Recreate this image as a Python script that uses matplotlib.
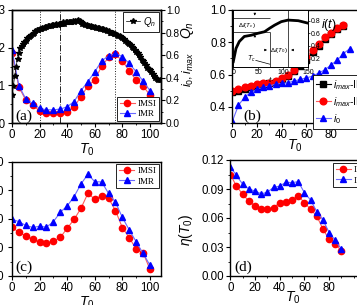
import matplotlib
matplotlib.use("Agg")
import matplotlib.pyplot as plt
from matplotlib.ticker import AutoMinorLocator, MultipleLocator, FormatStrFormatter, FixedLocator
import numpy as np

plt.rcParams['font.family'] = ['Liberation Sans', 'DejaVu Sans']
plt.rcParams['mathtext.fontset'] = 'custom'
plt.rcParams['mathtext.it'] = 'Liberation Sans:italic'
plt.rcParams['mathtext.rm'] = 'Liberation Sans'

# ---- data ----
t0 = np.arange(0, 105, 5)

# (a)
a_imsi = [0.186, 0.095, 0.061, 0.048, 0.032, 0.027, 0.026, 0.026, 0.030, 0.043, 0.070,
          0.098, 0.114, 0.151, 0.174, 0.182, 0.165, 0.138, 0.114, 0.098, 0.074]
a_imr = [0.194, 0.099, 0.064, 0.052, 0.039, 0.035, 0.035, 0.037, 0.043, 0.057, 0.086,
         0.110, 0.136, 0.165, 0.178, 0.185, 0.176, 0.158, 0.136, 0.111, 0.086]
qn_t = np.arange(0, 108, 1)
qn = [0.25, 0.33, 0.42, 0.50, 0.57, 0.62, 0.66, 0.68, 0.70, 0.72, 0.73, 0.75, 0.76, 0.77,
      0.78, 0.79, 0.80, 0.81, 0.82, 0.82, 0.83, 0.83, 0.84, 0.84, 0.85, 0.85, 0.86, 0.86,
      0.86, 0.87, 0.87, 0.87, 0.88, 0.87, 0.88, 0.88, 0.88, 0.89, 0.88, 0.89, 0.89, 0.89,
      0.89, 0.89, 0.90, 0.89, 0.90, 0.90, 0.91, 0.90, 0.89, 0.88, 0.88, 0.87, 0.87, 0.86,
      0.86, 0.86, 0.85, 0.85, 0.85, 0.84, 0.84, 0.84, 0.83, 0.83, 0.83, 0.82, 0.82, 0.81,
      0.81, 0.80, 0.80, 0.80, 0.79, 0.79, 0.78, 0.77, 0.77, 0.76, 0.75, 0.74, 0.73, 0.72,
      0.71, 0.70, 0.69, 0.67, 0.66, 0.65, 0.63, 0.62, 0.60, 0.58, 0.56, 0.55, 0.53, 0.51,
      0.49, 0.48, 0.47, 0.45, 0.43, 0.42, 0.40, 0.39, 0.38, 0.38]
vlines_a = [20, 35, 75]

# (b)
b_t = np.arange(0, 95, 5)
b_imax_1 = [0.49, 0.50, 0.51, 0.52, 0.53, 0.54, 0.545, 0.555, 0.57, 0.59, 0.62, 0.65,
            0.69, 0.74, 0.78, 0.82, 0.85, 0.88, 0.90]
b_imax_2 = [0.50, 0.51, 0.52, 0.53, 0.54, 0.545, 0.55, 0.56, 0.58, 0.60, 0.63, 0.67,
            0.71, 0.75, 0.79, 0.83, 0.86, 0.89, 0.91]
b_i0_t = np.arange(0, 100, 5)
b_i0 = [0.31, 0.41, 0.46, 0.49, 0.51, 0.52, 0.53, 0.54, 0.545, 0.55, 0.56, 0.57, 0.58,
        0.59, 0.61, 0.63, 0.66, 0.69, 0.73, 0.76]
# inset i(t)
it_t = [0, 5.4, 12, 22, 36, 49, 62.5, 72.6, 82.7, 96, 109.6, 130, 150]
it_i = [0.15, 0.36, 0.47, 0.55, 0.57, 0.60, 0.625, 0.68, 0.73, 0.785, 0.81, 0.80, 0.76]

# (c)
c_imsi = [0.170, 0.153, 0.140, 0.128, 0.119, 0.114, 0.122, 0.135, 0.167, 0.198, 0.237,
          0.289, 0.269, 0.281, 0.272, 0.229, 0.169, 0.134, 0.094, 0.082, 0.023]
c_imr = [0.199, 0.190, 0.177, 0.170, 0.174, 0.171, 0.190, 0.223, 0.245, 0.278, 0.322,
         0.356, 0.330, 0.329, 0.289, 0.258, 0.205, 0.161, 0.120, 0.079, 0.038]

# (d)
d_t = np.arange(0, 95, 5)
d_imsi = [0.105, 0.093, 0.0845, 0.0776, 0.0724, 0.069, 0.069, 0.0707, 0.0759, 0.0769,
          0.0786, 0.0828, 0.0759, 0.069, 0.062, 0.0486, 0.0379, 0.033, 0.026]
d_imr = [0.113, 0.104, 0.095, 0.090, 0.088, 0.085, 0.0866, 0.0917, 0.093, 0.097, 0.0966,
         0.0976, 0.0862, 0.0786, 0.0666, 0.058, 0.045, 0.037, 0.0276]

RED, RED_L = '#ff0000', '#ff5a5a'
BLUE, BLUE_L = '#0000ff', '#6a6aff'
TICK_FS = 8.3
SERIF = ['Liberation Serif', 'DejaVu Serif']

W, H = 357, 305
fig = plt.figure(figsize=(W / 100, H / 100), dpi=100)


def px_axes(left, top, width, height):
    return fig.add_axes([left / W, 1 - (top + height) / H, width / W, height / H])


def style(ax, xminor=True):
    for s in ax.spines.values():
        s.set_linewidth(1.0)
    ax.tick_params(which='both', direction='out', labelsize=TICK_FS, pad=1.5)
    ax.tick_params(which='major', length=3, width=0.8)
    ax.tick_params(which='minor', length=1.6, width=0.6)
    if xminor:
        ax.xaxis.set_minor_locator(AutoMinorLocator(2))
    ax.yaxis.set_minor_locator(AutoMinorLocator(2))


def pair(ax, x, y1, y2, lab1='IMSI', lab2='IMR'):
    ax.plot(x, y1, '-', color=RED_L, lw=0.8, marker='o', ms=4.5, mfc=RED, mec=RED, label=lab1)
    ax.plot(x, y2, '-', color=BLUE_L, lw=0.8, marker='^', ms=4.8, mfc=BLUE, mec=BLUE, label=lab2)


def serif_legend(ax, **kw):
    leg = ax.legend(prop={'family': SERIF, 'size': 6.5}, fancybox=False, edgecolor='black',
                    framealpha=1, handlelength=1.7, handletextpad=0.3, labelspacing=0.25,
                    borderpad=0.3, **kw)
    leg.get_frame().set_linewidth(0.6)
    return leg


def panel_label(ax, s, x, y):
    ax.text(x, y, s, transform=ax.transAxes, family=SERIF, fontsize=11, ha='left', va='bottom')


# ---- (a) ----
ax_a = px_axes(12, 10, 149, 113)
for v, ls in zip(vlines_a, [':', '-.', ':']):
    ax_a.axvline(v, color='#222222', lw=0.7, ls=ls)
pair(ax_a, t0, a_imsi, a_imr)
ax_a.set_xlim(0, 108)
ax_a.set_ylim(0, 0.3)
ax_a.xaxis.set_major_locator(MultipleLocator(20))
ax_a.yaxis.set_major_locator(MultipleLocator(0.1))
style(ax_a)
ax_a.set_xlabel('$\\mathit{T_0}$', fontsize=10, labelpad=0)
serif_legend(ax_a, loc='lower right', borderaxespad=0.2)
panel_label(ax_a, '(a)', 0.02, 0.0)

ax_q = ax_a.twinx()
ax_q.plot(qn_t, qn, '-*', color='black', lw=0.5, ms=4, label='$Q_n$')
ax_q.set_ylim(0, 1.0)
ax_q.yaxis.set_major_locator(MultipleLocator(0.2))
style(ax_q, xminor=False)
ax_q.tick_params(axis='y', pad=0.5, labelsize=7.3)
ax_q.set_ylabel('$Q_n$', fontsize=10)
ax_q.yaxis.set_label_coords(1.12, 0.82)
lq = ax_q.legend(loc='upper right', fancybox=False, edgecolor='black', framealpha=1,
                 prop={'size': 7}, handlelength=1.5, handletextpad=0.3, borderpad=0.3,
                 borderaxespad=0.2)
lq.get_frame().set_linewidth(0.6)

# ---- (b) ----
ax_b = px_axes(232.3, 10, 133.4, 113)
ax_b.plot(b_t, b_imax_1, '-', color='black', lw=0.8, marker='s', ms=4.2, label='$i_{max}$-IMSI')
ax_b.plot(b_t, b_imax_2, '-', color=RED_L, lw=0.8, marker='o', ms=4.8, mfc=RED, mec=RED,
          label='$i_{max}$-IMR')
ax_b.plot(b_i0_t, b_i0, '-', color=BLUE_L, lw=0.8, marker='^', ms=4.8, mfc=BLUE, mec=BLUE,
          label='$i_0$')
ax_b.set_xlim(0, 108)
ax_b.set_ylim(0.3, 1.0)
ax_b.xaxis.set_major_locator(FixedLocator([0, 20, 40, 60, 80]))
ax_b.yaxis.set_major_locator(MultipleLocator(0.2))
style(ax_b)
ax_b.set_xlabel('$\\mathit{T_0}$', fontsize=10, labelpad=0)
ax_b.xaxis.set_label_coords(0.47, -0.13)
ax_b.set_ylabel('$i_0,i_{max}$', fontsize=9)
ax_b.yaxis.set_label_coords(-0.27, 0.47)
lb = ax_b.legend(loc='upper left', bbox_to_anchor=(0.605, 0.425), fancybox=False,
                 edgecolor='black', framealpha=1, prop={'size': 7.5}, handlelength=1.4,
                 handletextpad=0.2, labelspacing=0.3, borderpad=0.3, borderaxespad=0)
lb.get_frame().set_linewidth(0.6)
panel_label(ax_b, '(b)', 0.08, 0.0)

# inset
ax_in = px_axes(233.3, 10, 75, 56.7)
ax_in.plot(it_t, it_i, '-', color='black', lw=2.0)
ax_in.set_xlim(0, 150)
ax_in.set_ylim(0.07, 0.97)
ax_in.yaxis.tick_right()
ax_in.set_xticks([0, 50, 100, 150])
ax_in.set_yticks([0.2, 0.4, 0.6, 0.8])
ax_in.tick_params(labelsize=5, length=1.5, width=0.5, pad=0.5)
for s in ax_in.spines.values():
    s.set_linewidth(0.7)
ax_in.set_xlabel('$t$', fontsize=6, labelpad=-1)
ax_in.text(1.17, 0.74, '$i(t)$', transform=ax_in.transAxes, fontsize=9, ha='left', va='center')
ax_in.hlines([0.838, 0.625], 0, 73, color='black', lw=0.5)
ax_in.vlines(73, 0.07, 0.625, color='black', lw=0.5)
ax_in.vlines(110, 0.07, 0.97, color='black', lw=0.5)
arr = dict(arrowstyle='-|>', lw=0.5, color='black', mutation_scale=3)
ax_in.annotate('', xy=(43, 0.838), xytext=(43, 0.95), arrowprops=arr)
ax_in.annotate('', xy=(43, 0.625), xytext=(43, 0.52), arrowprops=arr)
ax_in.annotate('', xy=(73, 0.335), xytext=(58, 0.335), arrowprops=arr)
ax_in.annotate('', xy=(110, 0.335), xytext=(125, 0.335), arrowprops=arr)
ax_in.text(27, 0.73, '$\\Delta I(T_c)$', fontsize=4.5, ha='center', va='center')
ax_in.text(91, 0.335, '$\\Delta I(T_0)$', fontsize=4.5, ha='center', va='center')
ax_in.text(37, 0.2, '$T_c$', fontsize=5, ha='center', va='center')
ax_in.plot([45, 73], [0.17, 0.11], color='black', lw=0.5)

# ---- (c) ----
ax_c = px_axes(12, 161.7, 149, 114.3)
pair(ax_c, t0, c_imsi, c_imr)
ax_c.set_xlim(0, 108)
ax_c.set_ylim(0, 0.4)
ax_c.xaxis.set_major_locator(MultipleLocator(20))
ax_c.yaxis.set_major_locator(MultipleLocator(0.1))
ax_c.yaxis.set_major_formatter(FormatStrFormatter('%.2f'))
style(ax_c)
ax_c.tick_params(axis='y', pad=2.5)
ax_c.set_xlabel('$\\mathit{T_0}$', fontsize=10, labelpad=0)
serif_legend(ax_c, loc='upper right', borderaxespad=0.25)
panel_label(ax_c, '(c)', 0.02, 0.02)

# ---- (d) ----
ax_d = px_axes(230.3, 160, 133.4, 116)
pair(ax_d, d_t, d_imsi, d_imr)
ax_d.set_xlim(0, 108)
ax_d.set_ylim(0, 0.12)
ax_d.xaxis.set_major_locator(FixedLocator([0, 20, 40, 60, 80]))
ax_d.yaxis.set_major_locator(MultipleLocator(0.03))
ax_d.yaxis.set_major_formatter(FormatStrFormatter('%.2f'))
style(ax_d)
ax_d.set_xlabel('$\\mathit{T_0}$', fontsize=10, labelpad=0)
ax_d.xaxis.set_label_coords(0.47, -0.12)
ax_d.set_ylabel('$\\eta(T_0)$', fontsize=10)
ax_d.yaxis.set_label_coords(-0.265, 0.4)
serif_legend(ax_d, loc='upper left', bbox_to_anchor=(0.77, 0.975), borderaxespad=0)
panel_label(ax_d, '(d)', 0.03, 0.02)

fig.savefig('out.png', dpi=100)
